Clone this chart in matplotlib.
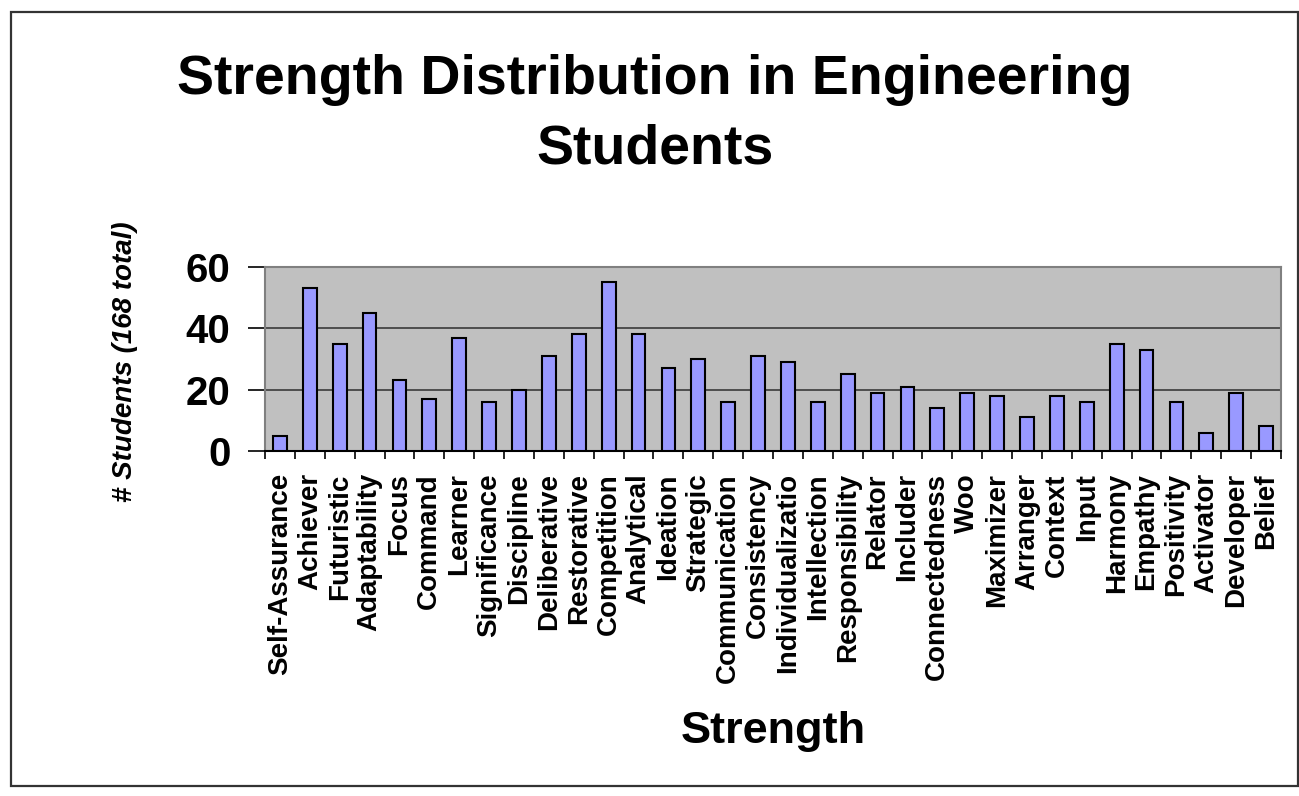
import matplotlib
matplotlib.use("Agg")
import matplotlib.pyplot as plt
from matplotlib.patches import Rectangle
import numpy as np

strengths = [
    "Self-Assurance", "Achiever", "Futuristic", "Adaptability", "Focus",
    "Command", "Learner", "Significance", "Discipline", "Deliberative",
    "Restorative", "Competition", "Analytical", "Ideation", "Strategic",
    "Communication", "Consistency", "Individualizatio", "Intellection",
    "Responsibility", "Relator", "Includer", "Connectedness", "Woo",
    "Maximizer", "Arranger", "Context", "Input", "Harmony", "Empathy",
    "Positivity", "Activator", "Developer", "Belief",
]
students = [
    5, 53, 35, 45, 23, 17, 37, 16, 20, 31, 38, 55,
    38, 27, 30, 16, 31, 29, 16, 25, 19, 21, 14, 19,
    18, 11, 18, 16, 35, 33, 16, 6, 19, 8,
]
y_ticks = [0, 20, 40, 60]

plt.rcParams["font.family"] = ["Liberation Sans", "DejaVu Sans"]

W, H = 1299, 796
fig = plt.figure(figsize=(W / 100, H / 100), dpi=100)
fig.patch.set_facecolor("white")

# outer frame of the chart
fig.add_artist(Rectangle((11 / W, 1 - 786 / H), (1298 - 11) / W, (786 - 12) / H,
                         transform=fig.transFigure, fill=False,
                         edgecolor="#333333", linewidth=1.6))

ax = fig.add_axes([265 / W, 1 - 451 / H, (1281 - 265) / W, (451 - 267) / H])
ax.set_facecolor("#C0C0C0")

x = np.arange(len(strengths))
ax.bar(x, students, width=0.46, color="#9999FF", edgecolor="black",
       linewidth=1.5, zorder=3)

ax.set_xlim(-0.5, len(strengths) - 0.5)
ax.set_ylim(0, 60)

ax.set_yticks(y_ticks)
ax.set_yticklabels([str(v) for v in y_ticks], fontsize=29, fontweight="bold")
ax.tick_params(axis="y", direction="out", length=12, width=1.2,
               color="black", pad=13)
ax.yaxis.grid(True, color="#3a3a3a", linewidth=1.2, zorder=1)

# boundary ticks between categories, labels centered on each bar
ax.set_xticks(np.arange(len(strengths) + 1) - 0.5)
ax.set_xticklabels([])
ax.tick_params(axis="x", which="major", direction="out", length=6,
               width=1.2, color="black")
ax.set_xticks(x, minor=True)
ax.set_xticklabels(strengths, minor=True, rotation=90, fontsize=20,
                   fontweight="bold", va="top", ha="center")
ax.tick_params(axis="x", which="minor", length=0, pad=16)

for side in ("top", "right", "left"):
    ax.spines[side].set_color("#808080")
    ax.spines[side].set_linewidth(1.5)
ax.spines["bottom"].set_color("black")
ax.spines["bottom"].set_linewidth(1.5)

fig.text(655 / W, 1 - 54 / H, "Strength Distribution in Engineering",
         ha="center", va="top", fontsize=40, fontweight="bold")
fig.text(655 / W, 1 - 124 / H, "Students",
         ha="center", va="top", fontsize=40, fontweight="bold")

fig.text(125 / W, 1 - 362 / H, "# Students (168 total)", rotation=90,
         ha="center", va="center", fontsize=20, fontweight="bold",
         fontstyle="italic")

fig.text(773 / W, 1 - 743 / H, "Strength", ha="center", va="baseline",
         fontsize=32.5, fontweight="bold")

fig.savefig("out.png", dpi=100, facecolor="white")
